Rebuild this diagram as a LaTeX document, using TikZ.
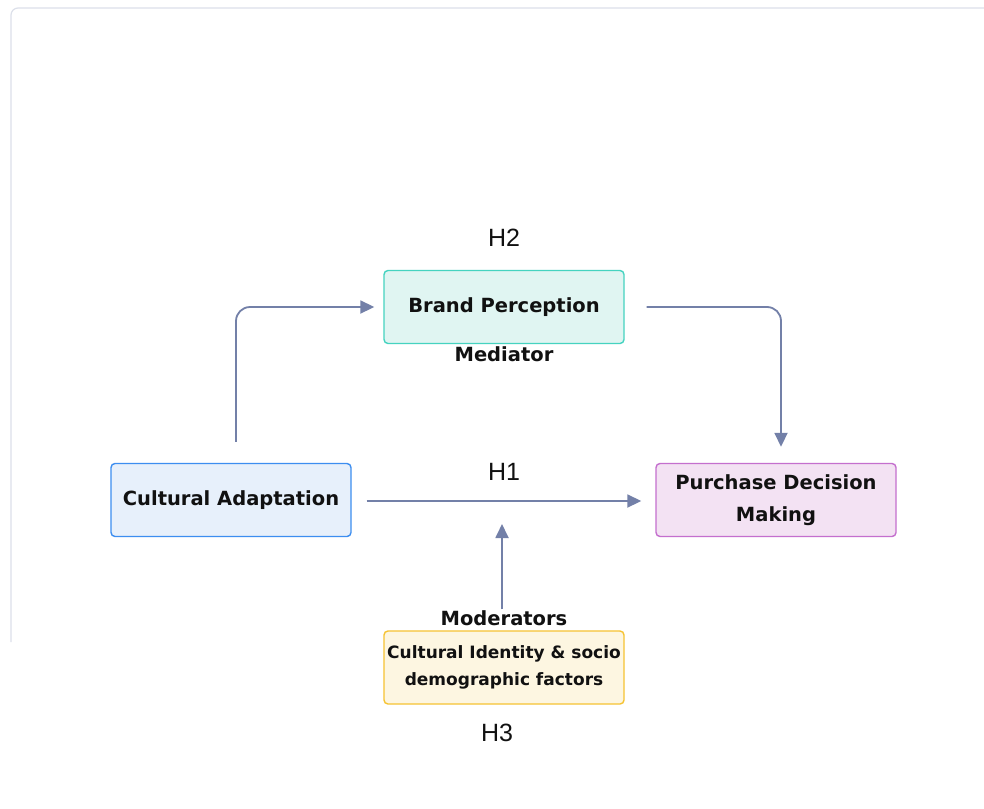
\documentclass[tikz,border=0pt]{standalone}
\usepackage{fontspec}
\setmainfont{DejaVu Sans}
\newfontfamily\hfont{Liberation Sans}
\usetikzlibrary{arrows.meta}

\definecolor{cardline}{HTML}{DCE0EA}
\definecolor{arrowcol}{HTML}{7380A8}
\definecolor{inkcol}{HTML}{111111}
\definecolor{adaptfill}{HTML}{E7F0FB}
\definecolor{adaptline}{HTML}{3D8EF0}
\definecolor{brandfill}{HTML}{E0F5F2}
\definecolor{brandline}{HTML}{45D3C0}
\definecolor{buyfill}{HTML}{F3E2F3}
\definecolor{buyline}{HTML}{C46FCE}
\definecolor{identfill}{HTML}{FDF6E1}
\definecolor{identline}{HTML}{F6C332}

\tikzset{
  box/.style={rounded corners=4pt, line width=1.4pt, minimum width=240pt,
    minimum height=73pt, align=center, inner sep=2pt, text=inkcol,
    font=\bfseries\fontsize{19.5}{32}\selectfont},
  link/.style={draw=arrowcol, line width=1.8pt, rounded corners=14pt,
    -{Triangle[length=14pt,width=13pt]}},
  hlabel/.style={text=inkcol, font=\hfont\fontsize{25}{28}\selectfont},
  blabel/.style={text=inkcol, font=\bfseries\fontsize{19.5}{24}\selectfont},
}

\begin{document}
\begin{tikzpicture}[x=1pt,y=-1pt]
\useasboundingbox (0,0) rectangle (984,808);
\fill[white] (0,0) rectangle (984,808);

% card outline
\draw[cardline, line width=1.2pt, rounded corners=7pt]
  (11,642) -- (11,8) -- (990,8);

% boxes
\node[box, fill=adaptfill, draw=adaptline] (adapt) at (231,500) {Cultural Adaptation};
\node[box, fill=brandfill, draw=brandline] (brand) at (504,307) {Brand Perception};
\node[box, fill=buyfill, draw=buyline] (buy) at (776,500) {Purchase Decision\\Making};
\node[box, fill=identfill, draw=identline, font=\bfseries\fontsize{17}{27}\selectfont]
  (ident) at (504,667.5) {Cultural Identity \& socio\\demographic factors};

% labels
\node[hlabel] (h2) at (504,238) {H2};
\node[hlabel] (h1) at (504,472) {H1};
\node[hlabel] (h3) at (497,733) {H3};
\node[blabel] (med) at (504,354) {Mediator};
\node[blabel] (mods) at (504,618) {Moderators};

% connectors
\coordinate (modtip) at (502,524);
\draw[link] ([xshift=5pt,yshift=21pt]adapt.north) |- ([xshift=-9pt]brand.west);
\draw[link] ([xshift=22pt]brand.east) -| ([xshift=5pt,yshift=16pt]buy.north);
\draw[link] ([xshift=15pt,yshift=-1pt]adapt.east) -- ([xshift=-14pt,yshift=-1pt]buy.west);
\draw[link] ([xshift=-2pt,yshift=21pt]ident.north) -- (modtip);
\end{tikzpicture}
\end{document}
